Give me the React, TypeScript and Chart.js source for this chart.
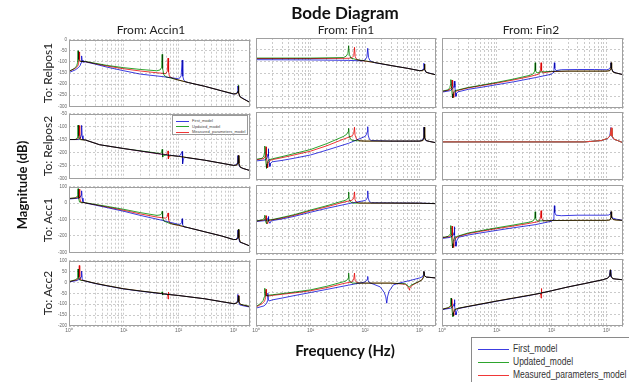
import React, { useEffect, useRef } from "react";
import { Chart, registerables } from "chart.js";

Chart.register(...registerables);
Chart.defaults.font.family = "'Liberation Sans', Arial, sans-serif";

type Pt = [number, number];

// ---------- data: [frequency Hz, magnitude dB] ----------
// Row 1: To Relpos1
const p11First: Pt[] = [[1,-148],[1.3,-136],[1.5,-125],[1.6,-116],[1.66,-104],[1.7,-73],[1.73,-92],[1.8,-101],[2,-100],[3,-110],[5,-124],[10,-140],[20,-155],[50,-166],[100,-176],[105,-172],[111,-163],[116,-92],[119,-165],[124,-182],[135,-190],[150,-193],[300,-210],[600,-230],[1000,-245],[1100,-244],[1170,-236],[1200,-208],[1230,-238],[1300,-255],[1500,-265],[2000,-282]];
const p11Updated: Pt[] = [[1,-142],[1.25,-130],[1.38,-118],[1.43,-104],[1.46,-50],[1.49,-88],[1.56,-97],[2,-98],[3,-106],[5,-116],[10,-126],[20,-134],[40,-140],[46,-136],[49,-124],[50,-66],[51,-130],[54,-160],[60,-168],[70,-172],[100,-182],[150,-193],[300,-210],[600,-230],[1000,-244],[1150,-243],[1210,-232],[1230,-205],[1250,-238],[1320,-258],[1500,-266],[2000,-283]];
const p11Measured: Pt[] = [[1,-143],[1.3,-129],[1.45,-118],[1.5,-106],[1.53,-55],[1.56,-90],[1.62,-98],[2,-99],[3,-108],[5,-119],[10,-131],[20,-141],[40,-149],[58,-153],[62,-142],[64,-83],[65.5,-145],[68,-166],[80,-175],[100,-182],[150,-193],[300,-210],[600,-230],[1000,-244],[1150,-243],[1210,-234],[1230,-210],[1250,-240],[1320,-258],[1500,-266],[2000,-283]];

const p12First: Pt[] = [[1,-93],[10,-94],[50,-96],[90,-98],[100,-94],[108,-82],[112,-44],[116,-84],[124,-98],[150,-106],[300,-118],[600,-130],[1000,-140],[1100,-139],[1170,-132],[1200,-108],[1230,-134],[1300,-146],[1500,-150],[2000,-158]];
const p12Updated: Pt[] = [[1,-86],[10,-86],[40,-84],[45,-78],[48.5,-66],[50,-33],[51.5,-70],[55,-86],[70,-93],[100,-98],[150,-105],[300,-118],[600,-130],[1000,-140],[1150,-140],[1210,-132],[1230,-112],[1250,-134],[1320,-147],[1500,-151],[2000,-158]];
const p12Measured: Pt[] = [[1,-88],[10,-88],[50,-87],[58,-84],[62,-76],[64,-40],[66,-80],[70,-92],[80,-96],[100,-99],[150,-105],[300,-118],[600,-130],[1000,-140],[1150,-140],[1210,-132],[1230,-112],[1250,-134],[1320,-147],[1500,-151],[2000,-158]];

const p13First: Pt[] = [[1,-232],[1.4,-226],[1.58,-216],[1.65,-205],[1.68,-185],[1.72,-212],[1.77,-235],[1.8,-250],[1.84,-238],[1.95,-231],[3,-220],[5,-212],[10,-200],[20,-188],[50,-170],[100,-155],[106,-148],[110,-135],[112,-106],[114,-130],[120,-140],[150,-136],[300,-135],[600,-135],[1000,-136],[1100,-134],[1170,-126],[1200,-106],[1230,-130],[1300,-143],[1500,-150],[2000,-157]];
const p13Updated: Pt[] = [[1,-228],[1.3,-222],[1.39,-212],[1.43,-200],[1.45,-178],[1.48,-205],[1.53,-240],[1.56,-257],[1.6,-238],[1.7,-226],[2,-222],[3,-212],[5,-203],[10,-190],[20,-176],[40,-160],[46,-154],[49,-142],[50,-106],[51,-140],[54,-150],[60,-146],[100,-143],[200,-142],[500,-142],[1000,-142],[1150,-140],[1200,-130],[1220,-106],[1240,-132],[1320,-146],[1500,-150],[2000,-157]];
const p13Measured: Pt[] = [[1,-229],[1.35,-223],[1.46,-213],[1.51,-200],[1.53,-180],[1.56,-207],[1.6,-238],[1.63,-255],[1.67,-237],[1.8,-228],[2,-224],[3,-214],[5,-205],[10,-193],[20,-180],[40,-165],[58,-155],[62,-144],[64,-106],[65.5,-140],[70,-150],[80,-147],[100,-144],[200,-142],[500,-142],[1000,-142],[1150,-140],[1200,-130],[1220,-106],[1240,-132],[1320,-146],[1500,-150],[2000,-157]];

// Row 2: To Relpos2
const p21First: Pt[] = [[1,-150],[1.5,-150],[1.62,-144],[1.67,-132],[1.7,-95],[1.73,-135],[1.8,-150],[2,-152],[3.6,-170],[10,-185],[46,-206],[100,-215],[108,-210],[113,-200],[116,-196],[118,-244],[122,-225],[130,-219],[300,-230],[1000,-250],[1120,-248],[1175,-240],[1200,-212],[1225,-242],[1300,-256],[1500,-262],[2000,-270]];
const p21Updated: Pt[] = [[1,-150],[1.3,-150],[1.4,-144],[1.44,-132],[1.46,-94],[1.49,-135],[1.56,-150],[2,-152],[3.6,-170],[10,-185],[46,-204],[49,-198],[50,-188],[51,-218],[53,-212],[60,-210],[100,-215],[300,-230],[1000,-250],[1150,-249],[1205,-240],[1230,-212],[1255,-242],[1330,-257],[1500,-262],[2000,-270]];
const p21Measured: Pt[] = [[1,-150],[1.4,-150],[1.49,-144],[1.52,-132],[1.54,-96],[1.57,-135],[1.64,-150],[2,-152],[3.6,-170],[10,-185],[46,-206],[60,-208],[63,-200],[64,-194],[65,-225],[67,-215],[75,-212],[100,-215],[300,-230],[1000,-250],[1150,-249],[1205,-240],[1230,-212],[1255,-242],[1330,-257],[1500,-262],[2000,-270]];

const p22First: Pt[] = [[1,-230],[1.5,-226],[1.6,-218],[1.66,-205],[1.68,-185],[1.71,-212],[1.76,-238],[1.8,-250],[1.85,-238],[2,-233],[3,-228],[5,-220],[10,-208],[20,-190],[50,-165],[100,-140],[106,-132],[110,-122],[112,-104],[114,-135],[120,-150],[130,-155],[300,-157],[1000,-157],[1100,-155],[1170,-146],[1200,-106],[1230,-144],[1300,-155],[1500,-158],[2000,-163]];
const p22Updated: Pt[] = [[1,-224],[1.3,-220],[1.39,-212],[1.43,-200],[1.45,-175],[1.48,-210],[1.53,-242],[1.56,-257],[1.6,-238],[1.7,-226],[2,-222],[3,-214],[5,-203],[10,-188],[20,-166],[40,-140],[46,-132],[49,-122],[50,-110],[51,-135],[54,-150],[60,-155],[100,-157],[300,-157],[1000,-157],[1150,-155],[1200,-145],[1220,-106],[1240,-145],[1320,-155],[1500,-158],[2000,-163]];
const p22Measured: Pt[] = [[1,-226],[1.4,-221],[1.48,-212],[1.51,-200],[1.53,-178],[1.56,-210],[1.6,-240],[1.63,-255],[1.67,-238],[1.8,-228],[2,-225],[3,-218],[5,-208],[10,-194],[20,-174],[40,-150],[58,-138],[62,-128],[64,-106],[65.5,-135],[70,-150],[80,-156],[100,-157],[300,-157],[1000,-157],[1150,-155],[1200,-145],[1220,-106],[1240,-145],[1320,-155],[1500,-158],[2000,-163]];

const p23First: Pt[] = [[1,-160],[100,-160],[400,-160],[800,-155],[1050,-148],[1150,-138],[1200,-107],[1240,-138],[1350,-150],[1600,-155],[2000,-163]];
const p23Updated: Pt[] = [[1,-160],[100,-160],[400,-160],[800,-155],[1050,-147],[1170,-137],[1220,-110],[1260,-138],[1370,-150],[1600,-155],[2000,-163]];
const p23Measured: Pt[] = [[1,-160],[100,-160],[400,-160],[800,-155],[1050,-147],[1170,-137],[1220,-108],[1260,-138],[1370,-150],[1600,-155],[2000,-163]];

// Row 3: To Acc1
const p31First: Pt[] = [[1,25],[1.5,30],[1.6,36],[1.67,48],[1.7,75],[1.73,30],[1.8,8],[2,0],[3,-12],[5,-28],[10,-50],[20,-75],[50,-105],[100,-130],[108,-128],[113,-118],[116,-95],[118,-130],[124,-145],[150,-150],[300,-175],[600,-200],[1000,-222],[1100,-222],[1170,-210],[1200,-165],[1230,-210],[1300,-238],[1500,-245],[2000,-262]];
const p31Updated: Pt[] = [[1,28],[1.3,32],[1.4,40],[1.44,52],[1.46,88],[1.49,30],[1.56,6],[2,2],[3,-8],[5,-20],[10,-38],[20,-58],[40,-75],[46,-72],[49,-64],[50,-50],[51,-90],[54,-110],[70,-125],[100,-135],[150,-150],[300,-175],[600,-200],[1000,-222],[1150,-222],[1205,-210],[1230,-160],[1255,-210],[1330,-238],[1500,-245],[2000,-262]];
const p31Measured: Pt[] = [[1,28],[1.4,32],[1.49,40],[1.52,52],[1.54,85],[1.57,30],[1.64,6],[2,1],[3,-10],[5,-24],[10,-44],[20,-66],[40,-85],[58,-92],[62,-82],[64,-60],[65.5,-100],[68,-120],[80,-130],[100,-136],[150,-150],[300,-175],[600,-200],[1000,-222],[1150,-222],[1205,-212],[1230,-162],[1255,-212],[1330,-238],[1500,-245],[2000,-262]];

const p32First: Pt[] = [[1,-112],[1.5,-106],[1.62,-100],[1.67,-90],[1.68,-82],[1.72,-108],[1.8,-122],[1.9,-108],[2,-106],[3,-97],[5,-82],[10,-58],[20,-35],[50,-8],[100,10],[106,16],[110,28],[112,66],[114,25],[120,5],[130,-3],[300,-4],[1000,-5],[2000,-8]];
const p32Updated: Pt[] = [[1,-108],[1.3,-102],[1.4,-96],[1.44,-86],[1.45,-75],[1.48,-105],[1.56,-125],[1.62,-104],[2,-100],[3,-88],[5,-72],[10,-45],[20,-20],[40,8],[46,14],[49,26],[50,60],[51,18],[54,2],[60,-5],[100,-5],[300,-5],[1000,-6],[2000,-8]];
const p32Measured: Pt[] = [[1,-110],[1.4,-103],[1.48,-98],[1.52,-88],[1.53,-78],[1.56,-108],[1.63,-125],[1.7,-106],[2,-102],[3,-92],[5,-76],[10,-50],[20,-26],[40,0],[58,12],[62,24],[64,60],[65.5,15],[69,0],[80,-5],[100,-5],[300,-5],[1000,-6],[2000,-8]];

const p33First: Pt[] = [[1,-210],[1.4,-204],[1.6,-192],[1.66,-176],[1.68,-142],[1.71,-190],[1.76,-230],[1.8,-255],[1.85,-225],[2,-203],[3,-190],[5,-178],[10,-163],[20,-148],[50,-130],[100,-110],[106,-100],[110,-82],[112,-20],[114,-60],[120,-75],[150,-78],[300,-75],[1000,-75],[1100,-74],[1170,-68],[1200,-55],[1230,-80],[1300,-92],[1500,-98],[2000,-105]];
const p33Updated: Pt[] = [[1,-205],[1.3,-198],[1.4,-185],[1.44,-168],[1.45,-135],[1.48,-190],[1.53,-240],[1.56,-265],[1.6,-225],[1.7,-204],[2,-195],[3,-178],[5,-165],[10,-148],[20,-132],[40,-115],[46,-108],[49,-92],[50,-55],[51,-92],[54,-108],[60,-108],[100,-106],[300,-105],[1000,-105],[1150,-103],[1200,-90],[1220,-55],[1240,-88],[1320,-100],[1500,-103],[2000,-105]];
const p33Measured: Pt[] = [[1,-206],[1.35,-200],[1.48,-188],[1.52,-170],[1.53,-138],[1.56,-192],[1.6,-240],[1.63,-262],[1.67,-228],[1.8,-206],[2,-198],[3,-182],[5,-169],[10,-153],[20,-138],[40,-122],[58,-112],[62,-96],[64,-49],[65.5,-90],[69,-106],[80,-108],[100,-106],[300,-105],[1000,-105],[1150,-103],[1200,-90],[1220,-55],[1240,-88],[1320,-100],[1500,-103],[2000,-105]];

// Row 4: To Acc2
const p41First: Pt[] = [[1,2],[1.4,9],[1.58,16],[1.66,26],[1.7,52],[1.74,18],[1.82,9],[2,6],[3,-5],[5,-16],[10,-30],[20,-40],[50,-52],[100,-60],[300,-75],[600,-88],[1000,-98],[1100,-96],[1170,-86],[1200,-55],[1230,-88],[1300,-103],[1500,-107],[2000,-113]];
const p41Updated: Pt[] = [[1,4],[1.3,12],[1.4,18],[1.44,30],[1.46,62],[1.49,24],[1.56,11],[2,7],[3,-4],[5,-15],[10,-29],[20,-39],[47,-50],[49.5,-46],[50,-43],[51,-58],[53,-53],[100,-60],[300,-75],[600,-88],[1000,-97],[1150,-95],[1205,-86],[1230,-62],[1255,-88],[1330,-100],[1500,-103],[2000,-110]];
const p41Measured: Pt[] = [[1,4],[1.4,12],[1.49,19],[1.52,32],[1.54,78],[1.57,26],[1.64,11],[2,7],[3,-4],[5,-15],[10,-29],[20,-39],[50,-51],[62,-54],[63.5,-60],[64,-76],[64.8,-44],[66,-52],[70,-56],[100,-60],[300,-75],[600,-88],[1000,-97],[1150,-95],[1205,-86],[1230,-60],[1255,-88],[1330,-100],[1500,-104],[2000,-111]];

const p42First: Pt[] = [[1,-120],[1.4,-110],[1.56,-100],[1.62,-88],[1.65,-53],[1.68,-80],[1.75,-88],[2,-83],[3,-75],[5,-64],[10,-50],[20,-36],[50,-17],[100,-3],[106,3],[110,10],[112,22],[114,2],[120,-6],[140,-12],[190,-25],[225,-50],[240,-70],[250,-98],[258,-70],[275,-45],[330,-16],[420,-8],[700,5],[1000,15],[1120,20],[1170,28],[1200,44],[1230,26],[1320,19],[1500,18],[2000,15]];
const p42Updated: Pt[] = [[1,-113],[1.2,-100],[1.35,-86],[1.42,-70],[1.45,-31],[1.48,-62],[1.56,-64],[1.7,-62],[2,-60],[3,-55],[5,-48],[10,-38],[20,-22],[40,-2],[46,4],[49,14],[50,37],[51,8],[54,-4],[60,-8],[100,-8],[300,-8],[550,-11],[620,-22],[650,-26],[690,-18],[800,-10],[1000,0],[1120,8],[1180,20],[1200,44],[1230,26],[1320,19],[1500,18],[2000,15]];
const p42Measured: Pt[] = [[1,-115],[1.3,-100],[1.44,-88],[1.5,-72],[1.53,-36],[1.56,-64],[1.65,-66],[1.8,-65],[2,-63],[3,-58],[5,-52],[10,-42],[20,-28],[40,-10],[58,-2],[62,10],[64,37],[65.5,5],[70,-5],[80,-8],[100,-8],[300,-8],[550,-13],[610,-24],[640,-34],[650,-40],[665,-32],[700,-22],[800,-12],[1000,0],[1120,8],[1180,20],[1200,44],[1230,26],[1320,19],[1500,18],[2000,15]];

const p43First: Pt[] = [[1,-127],[1.45,-120],[1.6,-112],[1.66,-100],[1.68,-82],[1.72,-112],[1.77,-140],[1.8,-150],[1.85,-135],[1.95,-125],[2,-122],[3,-113],[5,-103],[10,-89],[20,-76],[40,-63],[63,-53],[100,-42],[200,-25],[400,-10],[850,7],[1050,14],[1130,24],[1170,50],[1200,22],[1300,12],[1500,10],[2000,7]];
const p43Updated: Pt[] = [[1,-125],[1.3,-118],[1.4,-110],[1.44,-98],[1.46,-75],[1.49,-105],[1.54,-140],[1.58,-158],[1.62,-140],[1.7,-126],[2,-120],[3,-112],[5,-102],[10,-88],[20,-75],[40,-62],[63,-53],[100,-42],[200,-25],[400,-10],[850,7],[1050,14],[1150,25],[1180,52],[1210,24],[1300,12],[1500,10],[2000,7]];
const p43Measured: Pt[] = [[1,-125],[1.35,-118],[1.46,-110],[1.5,-98],[1.52,-78],[1.55,-108],[1.6,-140],[1.63,-155],[1.67,-138],[1.75,-126],[2,-121],[3,-112],[5,-102],[10,-88],[20,-75],[40,-62],[62,-54],[63.5,-60],[64,-75],[64.8,-32],[66,-48],[70,-51],[100,-42],[200,-25],[400,-10],[850,7],[1050,14],[1150,25],[1180,52],[1210,24],[1300,12],[1500,10],[2000,7]];

const panelSeries: Pt[][][][] = [
  [[p11First, p11Updated, p11Measured], [p12First, p12Updated, p12Measured], [p13First, p13Updated, p13Measured]],
  [[p21First, p21Updated, p21Measured], [p22First, p22Updated, p22Measured], [p23First, p23Updated, p23Measured]],
  [[p31First, p31Updated, p31Measured], [p32First, p32Updated, p32Measured], [p33First, p33Updated, p33Measured]],
  [[p41First, p41Updated, p41Measured], [p42First, p42Updated, p42Measured], [p43First, p43Updated, p43Measured]],
];

const seriesNames = ["First_model", "Updated_model", "Measured_parameters_model"];
const rowNames = ["To: Relpos1", "To: Relpos2", "To: Acc1", "To: Acc2"];
const colNames = ["From: Accin1", "From: Fin1", "From: Fin2"];
const rowYMin = [-300, -300, -300, -200];
const rowYMax = [0, -50, 100, 100];
const yStep = 50;
const freqMin = 1;
const freqMax = 2000;
const supDigits = ["\u2070", "\u00B9", "\u00B2", "\u00B3", "\u2074"];

// ---------- styles / layout ----------
const seriesColors = ["#3c3ce1", "#2da52d", "#f03737"];
const colLeft = [69, 256, 442];
const colW = [181, 180, 181];
const rowTop = [38, 112, 185, 259];
const rowH = [70, 68, 69, 67];
const PAD = { left: 6, right: 6, top: 3, bottom: 3 };

const framePlugin = {
  id: "frame",
  afterDraw(chart: any) {
    const { ctx, chartArea: a } = chart;
    ctx.save();
    ctx.strokeStyle = "#a0a0a0";
    ctx.lineWidth = 1;
    ctx.strokeRect(Math.round(a.left) + 0.5, Math.round(a.top) + 0.5, Math.round(a.width) - 1, Math.round(a.height) - 1);
    ctx.restore();
  },
};

const makeBlendPlugin = (on: boolean) => ({
  id: "blend",
  beforeDatasetsDraw(chart: any) {
    chart.ctx.save();
    if (on) chart.ctx.globalCompositeOperation = "multiply";
  },
  afterDatasetsDraw(chart: any) {
    chart.ctx.restore();
  },
});

function Panel({ row, col }: { row: number; col: number }) {
  const ref = useRef<HTMLCanvasElement | null>(null);
  const padL = col === 0 ? 16 : 0;
  const padB = row === 3 ? 9 : 0;
  const w = PAD.left + padL + colW[col] + PAD.right;
  const h = PAD.top + rowH[row] + padB + PAD.bottom;

  useEffect(() => {
    if (!ref.current) return;
    const series = panelSeries[row][col];
    const chart = new Chart(ref.current, {
      type: "line",
      data: {
        datasets: series.map((s, i) => ({
          label: seriesNames[i],
          data: s.map(([x, y]) => ({ x, y })),
          borderColor: seriesColors[i],
          backgroundColor: seriesColors[i],
          borderWidth: 1,
          pointRadius: 0,
          tension: 0,
          fill: false,
          order: 2 - i,
        })),
      },
      options: {
        responsive: false,
        animation: false,
        devicePixelRatio: 1,
        layout: { padding: PAD, autoPadding: false } as any,
        events: [],
        plugins: { legend: { display: false }, tooltip: { enabled: false }, title: { display: false } },
        scales: {
          x: {
            type: "logarithmic",
            min: freqMin,
            max: freqMax,
            afterFit: (s: any) => { s.height = padB; },
            afterBuildTicks: (s: any) => {
              s.ticks = s.ticks.filter((t: any) => {
                const m = t.value / Math.pow(10, Math.floor(Math.log10(t.value) + 1e-9));
                return Math.abs(m - Math.round(m)) < 1e-6;
              });
            },
            grid: { color: "#bdbdbd", lineWidth: 0.8, drawTicks: false },
            border: { display: false, dash: [2, 2] },
            ticks: {
              display: row === 3,
              autoSkip: false,
              maxRotation: 0,
              minRotation: 0,
              padding: 2,
              color: "#666",
              font: { size: 5 },
              callback: (v: any) => {
                const l = Math.log10(Number(v));
                const r = Math.round(l);
                return Math.abs(l - r) < 1e-9 ? "10" + supDigits[r] : "";
              },
            },
          } as any,
          y: {
            type: "linear",
            min: rowYMin[row],
            max: rowYMax[row],
            afterFit: (s: any) => { s.width = padL; },
            grid: { color: "#bdbdbd", lineWidth: 0.8, drawTicks: false },
            border: { display: false, dash: [2, 2] },
            ticks: { display: col === 0, stepSize: yStep, padding: 2, color: "#666", font: { size: 4.5 } },
          } as any,
        },
      },
      plugins: [makeBlendPlugin(!(row === 1 && col === 2)), framePlugin],
    });
    return () => chart.destroy();
  }, [row, col]);

  return (
    <canvas
      ref={ref}
      width={w}
      height={h}
      style={{ position: "absolute", left: colLeft[col] - padL - PAD.left, top: rowTop[row] - PAD.top, width: w, height: h }}
    />
  );
}

const center = (x: number, y: number, rot = false): React.CSSProperties => ({
  position: "absolute",
  left: x,
  top: y,
  transform: rot ? "translate(-50%,-50%) rotate(-90deg)" : "translate(-50%,-50%)",
  whiteSpace: "nowrap",
  lineHeight: 1,
});

export default function App() {
  const panels: JSX.Element[] = [];
  for (let r = 0; r < 4; r++) for (let c = 0; c < 3; c++) panels.push(<Panel key={`${r}-${c}`} row={r} col={c} />);
  const colCenters = [151, 346, 531];
  return (
    <div style={{ position: "absolute", left: 0, top: 0, width: 629, height: 382, background: "#fff", overflow: "hidden", fontFamily: "Lato, 'Open Sans', sans-serif" }}>
      {panels}
      <div style={{ ...center(345, 12), fontSize: 17, fontWeight: 700, color: "#111" }}>Bode Diagram</div>
      {colNames.map((n, i) => (
        <div key={n} style={{ ...center(colCenters[i], 30), fontSize: 12, color: "#222" }}>{n}</div>
      ))}
      {rowNames.map((n, i) => (
        <div key={n} style={{ ...center(48, rowTop[i] + rowH[i] / 2, true), fontSize: 12, color: "#222" }}>{n}</div>
      ))}
      <div style={{ ...center(22, 185, true), fontSize: 13, fontWeight: 700, color: "#111" }}>Magnitude (dB)</div>
      <div style={{ ...center(345, 350), fontSize: 15, fontWeight: 700, color: "#111" }}>Frequency (Hz)</div>

      {/* small legend inside Relpos2/Accin1 panel */}
      <div style={{ position: "absolute", left: 172, top: 115, width: 76, height: 20, background: "#fff", border: "0.5px solid #9a9a9a", boxSizing: "border-box" }}>
        {seriesNames.map((n, i) => (
          <div key={n} style={{ position: "absolute", left: 0, top: 2 + i * 5.6, height: 5, width: 76 }}>
            <div style={{ position: "absolute", left: 3, top: 2.5, width: 13, height: 0, borderTop: `0.8px solid ${seriesColors[i]}` }} />
            <div style={{ position: "absolute", left: 19, top: 0, fontSize: 4, lineHeight: "5px", fontFamily: "'Liberation Sans', Arial, sans-serif", color: "#444" }}>{n}</div>
          </div>
        ))}
      </div>

      {/* bottom-right legend */}
      <div style={{ position: "absolute", left: 471, top: 337, width: 170, height: 50, background: "#fff", border: "1px solid #8a8a8a", boxSizing: "border-box" }}>
        {seriesNames.map((n, i) => (
          <div key={n} style={{ position: "absolute", left: 0, top: 5 + i * 13, height: 12, width: 170 }}>
            <div style={{ position: "absolute", left: 6, top: 6, width: 31, height: 0, borderTop: `1px solid ${seriesColors[i]}` }} />
            <div style={{ position: "absolute", left: 41, top: 0, fontSize: 10, lineHeight: "12px", fontFamily: "'Liberation Sans', Arial, sans-serif", color: "#333", transform: "scaleX(0.85)", transformOrigin: "left center", whiteSpace: "nowrap" }}>{n}</div>
          </div>
        ))}
      </div>
    </div>
  );
}
